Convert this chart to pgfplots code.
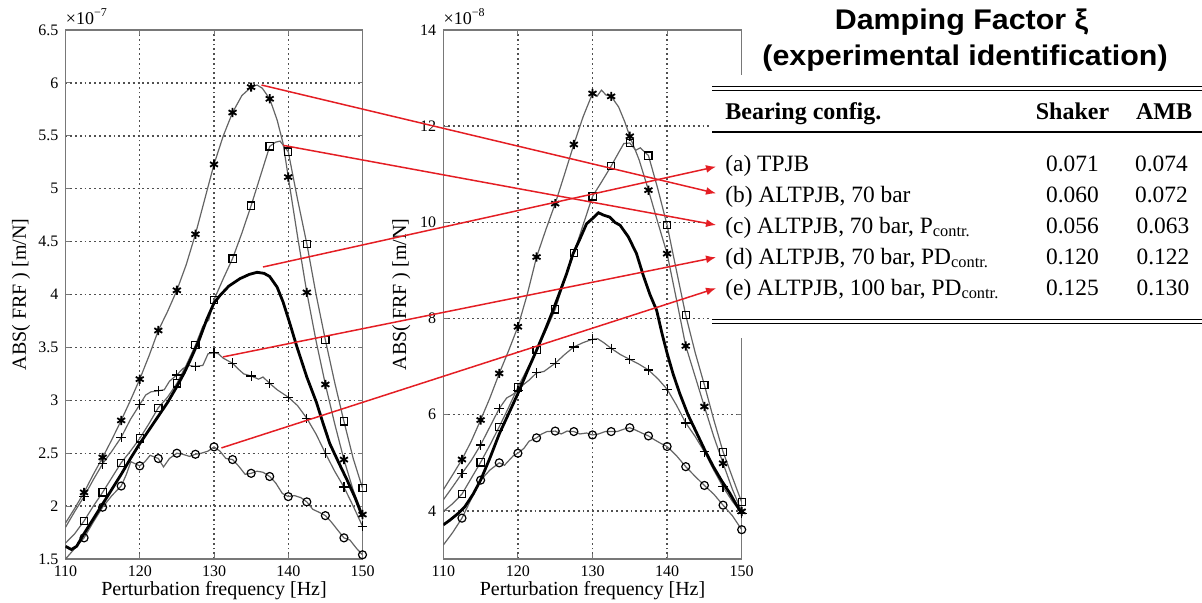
\documentclass[border=0pt]{standalone}
\usepackage{fontspec}
\setmainfont{Liberation Serif}
\newfontfamily\titlefont{Liberation Sans}
\usepackage{graphicx}
\usepackage{pgfplots}
\usepackage{pgfplotstable}
\pgfplotsset{compat=1.18}
\usetikzlibrary{arrows.meta}

\definecolor{boxgray}{RGB}{120,120,120}
\definecolor{curvegray}{RGB}{100,100,100}
\definecolor{gridgray}{RGB}{80,80,80}
\definecolor{arrowred}{RGB}{228,30,36}

% ---------- left panel (x 1e-7 m/N) ----------
\pgfplotstableread{
f v m
110 1.84 0
111.25 1.98 0
112.5 2.13 1
113.75 2.30 0
115 2.46 1
116.25 2.63 0
117.5 2.81 1
118.75 3.00 0
120 3.20 1
121.25 3.42 0
122.5 3.66 1
123.75 3.84 0
125 4.04 1
126.25 4.28 0
127.5 4.57 1
128.75 4.90 0
130 5.23 1
131.25 5.50 0
132.5 5.72 1
133.75 5.88 0
135 5.96 1
135.8 5.98 0
136.5 5.95 0
137.5 5.85 1
138.5 5.65 0
139.3 5.43 0
140 5.11 1
141.25 4.55 0
142.5 4.02 1
143.75 3.56 0
145 3.15 1
146.25 2.78 0
147.5 2.44 1
148.75 2.15 0
150 1.92 1
}\LStar
\pgfplotstableread{
f v m
110 1.65 0
111.25 1.74 0
112.5 1.86 1
113.75 2.00 0
115 2.13 1
116.25 2.27 0
117.5 2.41 1
118.75 2.52 0
120 2.64 1
121.25 2.78 0
122.5 2.93 1
123.75 3.03 0
125 3.16 1
126.25 3.33 0
127.5 3.52 1
128.5 3.70 0
129.3 3.76 0
130 3.95 1
131.25 4.15 0
132.5 4.34 1
133.75 4.58 0
135 4.84 1
136.25 5.12 0
137.5 5.40 1
138.3 5.44 0
138.9 5.45 0
140 5.35 1
141.25 4.90 0
142.5 4.48 1
143.75 4.00 0
145 3.57 1
146.25 3.17 0
147.5 2.80 1
148.75 2.45 0
150 2.17 1
}\LSquare
\pgfplotstableread{
f v
110 1.62
110.8 1.59
111.5 1.62
112.5 1.74
113.75 1.88
115 2.02
116.25 2.16
117.5 2.30
118.75 2.45
120 2.59
121.25 2.72
122.5 2.85
123.75 2.98
125 3.13
126 3.26
126.8 3.38
128 3.57
129 3.76
130 3.92
130.8 3.99
132 4.08
133.5 4.15
134.75 4.19
135.8 4.21
136.75 4.20
137.5 4.17
138.5 4.07
139.3 3.93
140.2 3.73
141.1 3.52
142.5 3.22
143.8 2.98
144.7 2.78
145.6 2.59
146.8 2.41
147.9 2.25
149 2.08
150 1.90
}\LBlack
\pgfplotstableread{
f v m
110 1.80 0
111.25 1.95 0
112.5 2.09 1
113.75 2.25 0
115 2.40 1
116.25 2.52 0
117.5 2.65 1
118.75 2.82 0
120 2.96 1
120.8 3.05 0
121.5 3.08 0
122.5 3.09 1
123.3 3.10 0
124 3.18 0
125 3.24 1
125.8 3.30 0
126.6 3.33 0
127.5 3.32 1
128.5 3.33 0
129.2 3.44 0
130 3.45 1
130.6 3.44 0
131.2 3.40 0
132.5 3.35 1
133.2 3.30 0
134 3.25 0
135 3.23 1
136 3.20 0
136.6 3.22 0
137.5 3.16 1
138.5 3.10 0
140 3.03 1
141.25 2.95 0
142.5 2.83 1
143.75 2.68 0
145 2.50 1
146.25 2.33 0
147.5 2.18 1
148.75 2.00 0
150 1.81 1
}\LPlus
\pgfplotstableread{
f v m
110 1.50 0
111.25 1.60 0
112.5 1.70 1
113.75 1.85 0
115 1.99 1
116.25 2.10 0
117.5 2.19 1
118.2 2.30 0
118.8 2.42 0
119.4 2.40 0
120 2.38 1
120.7 2.42 0
121.4 2.48 0
122.5 2.45 1
123.2 2.37 0
124 2.45 0
125 2.50 1
125.8 2.49 0
126.7 2.47 0
127.5 2.49 1
128.3 2.50 0
129.2 2.52 0
130 2.56 1
130.8 2.52 0
131.6 2.45 0
132.5 2.44 1
133.3 2.38 0
134.2 2.30 0
135 2.31 1
135.8 2.33 0
136.6 2.32 0
137.5 2.28 1
138.3 2.22 0
139.2 2.12 0
140 2.09 1
140.8 2.10 0
141.7 2.08 0
142.5 2.04 1
143.3 1.97 0
144.2 1.94 0
145 1.91 1
145.8 1.85 0
146.7 1.77 0
147.5 1.70 1
148.3 1.68 0
149.2 1.60 0
150 1.54 1
}\LCircle

% ---------- right panel (x 1e-8 m/N) ----------
\pgfplotstableread{
f v m
110 4.44 0
111.25 4.75 0
112.5 5.07 1
113.75 5.45 0
115 5.89 1
116.25 6.35 0
117.5 6.86 1
118.75 7.33 0
120 7.83 1
121.25 8.50 0
122.5 9.28 1
123.75 9.85 0
125 10.39 1
126.25 11.00 0
127.5 11.62 1
128.75 12.20 0
130 12.68 1
130.6 12.62 0
131.2 12.75 0
131.8 12.65 0
132.5 12.62 1
133.5 12.40 0
134.3 12.10 0
135 11.79 1
136.25 11.30 0
137.5 10.67 1
138.75 10.00 0
140 9.35 1
141.25 8.40 0
142.5 7.43 1
143.75 6.80 0
145 6.17 1
146.25 5.55 0
147.5 4.99 1
148.75 4.45 0
150 3.99 1
}\RStar
\pgfplotstableread{
f v m
110 3.99 0
111.25 4.15 0
112.5 4.35 1
113.75 4.68 0
115 5.01 1
116.25 5.37 0
117.5 5.75 1
118.75 6.15 0
120 6.57 1
121.25 6.95 0
122.5 7.34 1
123.75 7.75 0
125 8.19 1
126.25 8.80 0
127.5 9.36 1
128.75 9.95 0
130 10.54 1
131.25 10.85 0
132.5 11.17 1
133.5 11.45 0
134.2 11.64 0
135 11.65 1
135.8 11.50 0
136.4 11.55 0
137.5 11.39 1
138.75 10.70 0
140 9.94 1
141.25 9.00 0
142.5 8.07 1
143.75 7.30 0
145 6.62 1
146.25 5.90 0
147.5 5.23 1
148.75 4.70 0
150 4.18 1
}\RSquare
\pgfplotstableread{
f v
110 3.71
110.9 3.81
112 3.95
112.9 4.09
114 4.35
115 4.64
116.25 5.10
117.5 5.60
118.75 6.02
120 6.44
121.25 6.90
122.5 7.34
123.75 7.80
124.7 8.17
125.5 8.50
126.5 8.92
127.4 9.35
128.3 9.65
129.2 9.97
130 10.08
130.8 10.20
131.5 10.15
132.3 10.11
133 10.00
133.7 9.94
134.8 9.70
135.9 9.35
136.8 8.90
137.7 8.50
138.6 8.17
139.3 7.70
140 7.28
140.8 6.85
141.7 6.44
142.8 6.00
144 5.61
145.1 5.25
146.2 4.92
147.3 4.63
148.4 4.37
149.2 4.15
150 3.95
}\RBlack
\pgfplotstableread{
f v m
110 4.23 0
111.25 4.50 0
112.5 4.78 1
113.75 5.05 0
115 5.37 1
116.25 5.75 0
117.5 6.13 1
118.5 6.35 0
119.2 6.41 0
120 6.50 1
120.7 6.62 0
121.5 6.72 0
122.5 6.87 1
123.5 6.90 0
124.2 6.98 0
125 7.07 1
126.25 7.25 0
127.5 7.41 1
128.75 7.50 0
130 7.57 1
130.7 7.58 0
131.5 7.50 0
132.5 7.38 1
133.75 7.25 0
135 7.15 1
136.25 7.05 0
137.5 6.93 1
138.75 6.75 0
140 6.53 1
141.25 6.20 0
142.5 5.83 1
143.75 5.55 0
145 5.23 1
146.25 4.85 0
147.5 4.50 1
148.75 4.20 0
150 3.95 1
}\RPlus
\pgfplotstableread{
f v m
110 3.29 0
111.25 3.55 0
112.5 3.85 1
113.75 4.25 0
115 4.64 1
116.25 4.85 0
117.5 5.00 1
118.2 4.95 0
118.8 5.05 0
119.4 5.15 0
120 5.20 1
120.8 5.30 0
121.5 5.45 0
122.5 5.52 1
123.2 5.60 0
123.9 5.65 0
125 5.66 1
125.8 5.60 0
126.6 5.66 0
127.5 5.65 1
128.3 5.60 0
129.2 5.62 0
130 5.58 1
130.8 5.60 0
131.7 5.65 0
132.5 5.65 1
133.3 5.65 0
134.2 5.70 0
135 5.73 1
135.8 5.68 0
136.6 5.62 0
137.5 5.56 1
138.3 5.48 0
139.2 5.40 0
140 5.34 1
141.25 5.15 0
142.5 4.92 1
143.75 4.72 0
145 4.53 1
146.25 4.35 0
147.5 4.12 1
148.75 3.90 0
150 3.61 1
}\RCircle

\pgfplotsset{
  frfaxis/.style={
    scale only axis, anchor=south west, clip mode=individual,
    height=264.5pt,
    xmin=110, xmax=150, xtick={110,120,130,140,150},
    tick align=inside, tick pos=both, major tick length=2.5pt,
    axis line style={draw=boxgray, line width=0.6pt},
    tick style={draw=boxgray, line width=0.5pt},
    xmajorgrids=true, ymajorgrids=true,
    major grid style={draw=gridgray, line width=0.7pt, dash pattern=on 0.9pt off 1.5pt},
    /pgf/number format/assume math mode=true,
    tick label style={font=\fontsize{8}{8}\selectfont},
    label style={font=\fontsize{7.5}{7.5}\selectfont},
    every axis x label/.style={at={(rel axis cs:0.5,0)}, anchor=base, yshift=-18pt},
    xlabel={Perturbation frequency [Hz]},
    ylabel={ABS( FRF ) [m/N]},
  },
  trace/.style={curvegray, line width=0.6pt, no marks},
  tpjb/.style={black, line width=1.4pt, no marks},
  dots/.style={only marks, black, mark options={solid, line width=0.6pt},
    restrict expr to domain={\thisrow{m}}{0.5:1.5}},
}

\begin{document}
\begin{tikzpicture}
\useasboundingbox (0,0) rectangle (601pt,301pt);

% left panel
\begin{axis}[frfaxis, at={(32.75pt,21.5pt)}, width=148.5pt,
  ymin=1.5, ymax=6.5, ytick={1.5,2,2.5,3,3.5,4,4.5,5,5.5,6,6.5},
  every axis y label/.style={at={(rel axis cs:0,0.5)}, xshift=-19.75pt, rotate=90, anchor=base}]
  \addplot[trace] table[x=f,y=v]{\LStar};
  \addplot[trace] table[x=f,y=v]{\LSquare};
  \addplot[trace] table[x=f,y=v]{\LPlus};
  \addplot[trace] table[x=f,y=v]{\LCircle};
  \addplot[tpjb] table[x=f,y=v]{\LBlack};
  \addplot[dots, mark=asterisk, mark size=2.3pt, mark options={line width=0.9pt}] table[x=f,y=v]{\LStar};
  \addplot[dots, mark=square, mark size=1.8pt] table[x=f,y=v]{\LSquare};
  \addplot[dots, mark=+, mark size=2.4pt] table[x=f,y=v]{\LPlus};
  \addplot[dots, mark=o, mark size=2pt] table[x=f,y=v]{\LCircle};
  \node[anchor=south west, inner sep=0pt, yshift=2.5pt, font=\fontsize{9}{9}\selectfont]
    at (rel axis cs:0,1) {×10\textsuperscript{−7}};
  \coordinate (sa) at (axis cs:136.6,4.26);
  \coordinate (sb) at (axis cs:136.4,5.98);
  \coordinate (sc) at (axis cs:139.3,5.41);
  \coordinate (sd) at (axis cs:131.2,3.41);
  \coordinate (se) at (axis cs:131.0,2.55);
\end{axis}

% right panel
\begin{axis}[frfaxis, at={(221.65pt,21.5pt)}, width=149.2pt,
  ymin=3, ymax=14, ytick={4,6,8,10,12,14},
  every axis y label/.style={at={(rel axis cs:0,0.5)}, xshift=-18.65pt, rotate=90, anchor=base}]
  \addplot[trace] table[x=f,y=v]{\RStar};
  \addplot[trace] table[x=f,y=v]{\RSquare};
  \addplot[trace] table[x=f,y=v]{\RPlus};
  \addplot[trace] table[x=f,y=v]{\RCircle};
  \addplot[tpjb] table[x=f,y=v]{\RBlack};
  \addplot[dots, mark=asterisk, mark size=2.3pt, mark options={line width=0.9pt}] table[x=f,y=v]{\RStar};
  \addplot[dots, mark=square, mark size=1.8pt] table[x=f,y=v]{\RSquare};
  \addplot[dots, mark=+, mark size=2.4pt] table[x=f,y=v]{\RPlus};
  \addplot[dots, mark=o, mark size=2pt] table[x=f,y=v]{\RCircle};
  \node[anchor=south west, inner sep=0pt, yshift=2.5pt, font=\fontsize{9}{9}\selectfont]
    at (rel axis cs:0,1) {×10\textsuperscript{−8}};
\end{axis}

% damping-factor table
\fill[white] (355.5pt,132pt) rectangle (601pt,263.5pt);
\node[anchor=base, inner sep=0pt] at (480.75pt,286.3pt)
  {\titlefont\bfseries\fontsize{14.2}{14}\selectfont\scalebox{1.07}[1]{Damping Factor ξ}};
\node[anchor=base, inner sep=0pt] at (482.5pt,268.5pt)
  {\titlefont\bfseries\fontsize{14.2}{14}\selectfont\scalebox{1.07}[1]{(experimental identification)}};
\draw[line width=0.7pt] (356pt,257.65pt) -- (601pt,257.65pt);
\draw[line width=0.7pt] (356pt,255.65pt) -- (601pt,255.65pt);
\draw[line width=0.9pt] (356pt,235pt) -- (601pt,235pt);
\draw[line width=0.7pt] (356pt,141.35pt) -- (601pt,141.35pt);
\draw[line width=0.7pt] (356pt,139.35pt) -- (601pt,139.35pt);
\begin{scope}[every node/.style={inner sep=0pt, font=\fontsize{11.7}{11.7}\selectfont}]
  \node[anchor=base west] at (362.5pt,241.35pt) {\fontsize{12}{12}\selectfont\bfseries Bearing config.};
  \node[anchor=base] at (536.25pt,241.35pt) {\fontsize{12}{12}\selectfont\bfseries Shaker};
  \node[anchor=base] at (582pt,241.35pt) {\fontsize{12}{12}\selectfont\bfseries AMB};
  \node[anchor=base west] at (362.5pt,215.15pt) {(a) TPJB};
  \node[anchor=base west] at (362.5pt,199.65pt) {(b) ALTPJB, 70 bar};
  \node[anchor=base west] at (362.5pt,184.35pt) {(c) ALTPJB, 70 bar, P\textsubscript{contr.}};
  \node[anchor=base west] at (362.5pt,169pt) {(d) ALTPJB, 70 bar, PD\textsubscript{contr.}};
  \node[anchor=base west] at (362.5pt,153.5pt) {(e) ALTPJB, 100 bar, PD\textsubscript{contr.}};
  \node[anchor=base] at (536.25pt,215.15pt) {0.071};
  \node[anchor=base] at (536.25pt,199.65pt) {0.060};
  \node[anchor=base] at (536.25pt,184.35pt) {0.056};
  \node[anchor=base] at (536.25pt,169pt) {0.120};
  \node[anchor=base] at (536.25pt,153.5pt) {0.125};
  \node[anchor=base] at (580.75pt,215.15pt) {0.074};
  \node[anchor=base] at (580.75pt,199.65pt) {0.072};
  \node[anchor=base] at (581.5pt,184.35pt) {0.063};
  \node[anchor=base] at (581.5pt,169pt) {0.122};
  \node[anchor=base] at (581.5pt,153.5pt) {0.130};
\end{scope}

% arrows linking each curve to its table row
\begin{scope}[arrowred, line width=0.75pt, -{Latex[length=5pt,width=4pt]}]
  \draw (sa) -- (358pt,217.65pt);
  \draw (sb) -- (358pt,204.35pt);
  \draw (sc) -- (358pt,188.5pt);
  \draw (sd) -- (358pt,172.35pt);
  \draw (se) -- (358pt,156.85pt);
\end{scope}
\end{tikzpicture}
\end{document}
